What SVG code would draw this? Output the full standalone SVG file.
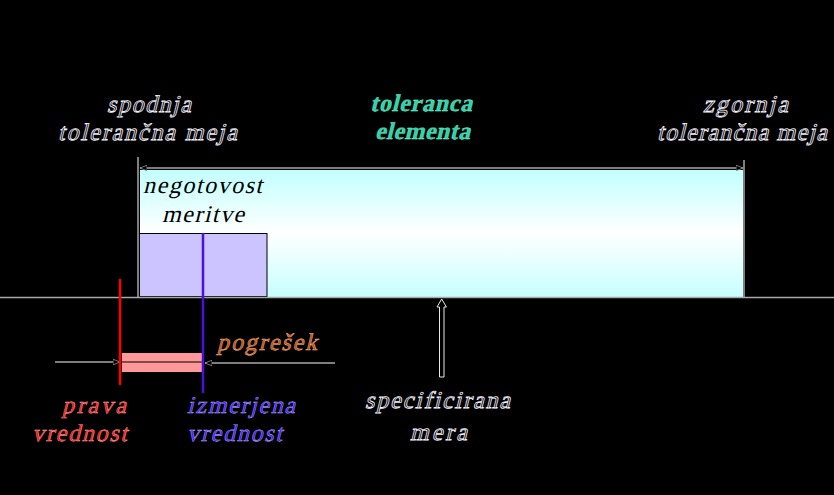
<svg xmlns="http://www.w3.org/2000/svg" width="834" height="495" viewBox="0 0 834 495">
<defs>
<style>
text{font-family:"Liberation Serif","Times New Roman",serif;font-style:normal;font-size:24px;text-anchor:middle}
.outl{fill:#0a0a0a;stroke:#f4f2ff;stroke-width:0.8}
.teal{fill:#2ed3a8;font-weight:bold;stroke:#8fffe0;stroke-width:0.3}
.err{fill:#b4501c;stroke:#f4b080;stroke-width:0.5}
.red{fill:#ff1a1a;stroke:#ffb0b0;stroke-width:0.4}
.blue{fill:#4020ff;stroke:#c0b8ff;stroke-width:0.4}
.dark{fill:#000}
.gl{stroke:#a8a8a8;stroke-width:1.5;fill:none}
</style>
<linearGradient id="cy" x1="0" y1="0" x2="0" y2="1">
<stop offset="0" stop-color="#c2ffff"/>
<stop offset="0.5" stop-color="#ffffff"/>
<stop offset="1" stop-color="#c6ffff"/>
</linearGradient>
<marker id="ah" viewBox="0 0 10 10" refX="10" refY="5" markerWidth="7" markerHeight="7" orient="auto-start-reverse" markerUnits="userSpaceOnUse">
<path d="M0,1 L10,5 L0,9 Z" fill="#000" stroke="#a8a8a8" stroke-width="1"/>
</marker>
</defs>
<rect width="834" height="495" fill="#000"/>

<g id="tolerance-band">
<rect x="140" y="170" width="603" height="127" fill="url(#cy)"/>
</g>

<g id="uncertainty-box">
<rect x="139.5" y="233.5" width="127.5" height="63" fill="#ccc4ff" stroke="#000" stroke-width="1"/>
<text class="dark" transform="translate(202.5,193) skewX(-14)" textLength="119" lengthAdjust="spacing">negotovost</text>
<text class="dark" transform="translate(203,222) skewX(-14)" textLength="82" lengthAdjust="spacing">meritve</text>
</g>

<g id="connectors">
<line class="gl" x1="0" y1="297.5" x2="834" y2="297.5"/>
<line class="gl" x1="138" y1="157" x2="138" y2="297"/>
<line class="gl" x1="744" y1="160" x2="744" y2="297"/>
<line class="gl" x1="140" y1="168" x2="743" y2="168" marker-start="url(#ah)" marker-end="url(#ah)"/>
<line class="gl" x1="55" y1="362" x2="120" y2="362" marker-end="url(#ah)"/>
<line class="gl" x1="335" y1="363" x2="205" y2="363" marker-end="url(#ah)"/>
<path d="M439.5,377 L439.5,307 L437,307 L441.7,299 L446.4,307 L444,307 L444,377 Z" fill="#000" stroke="#e8e8e8" stroke-width="1"/>
</g>

<g id="error-bar">
<rect x="122" y="353" width="81" height="19" fill="#ff9898"/>
<line x1="122" y1="362" x2="203" y2="362" stroke="#000" stroke-width="1.2"/>
</g>

<g id="true-value">
<line x1="120" y1="279" x2="120" y2="385" stroke="#ff0000" stroke-width="2.5"/>
<text class="red" transform="translate(94,413) skewX(-14)" textLength="64" lengthAdjust="spacing">prava</text>
<text class="red" transform="translate(79.5,441) skewX(-14)" textLength="95" lengthAdjust="spacing">vrednost</text>
</g>

<g id="measured-value">
<line x1="203" y1="233" x2="203" y2="393" stroke="#4a10e0" stroke-width="2.5"/>
<text class="blue" transform="translate(241,413) skewX(-14)" textLength="108" lengthAdjust="spacing">izmerjena</text>
<text class="blue" transform="translate(234.5,441) skewX(-14)" textLength="95" lengthAdjust="spacing">vrednost</text>
</g>

<g id="error-label">
<text class="err" transform="translate(267,350) skewX(-14)" textLength="100" lengthAdjust="spacing">pogrešek</text>
</g>

<g id="lower-limit">
<text class="outl" transform="translate(149,112) skewX(-14)" textLength="84" lengthAdjust="spacing">spodnja</text>
<text class="outl" transform="translate(147.5,140) skewX(-14)" textLength="179" lengthAdjust="spacing">tolerančna meja</text>
</g>

<g id="tolerance-label">
<text class="teal" transform="translate(421,111) skewX(-14)" textLength="102" lengthAdjust="spacing">toleranca</text>
<text class="teal" transform="translate(422.5,139) skewX(-14)" textLength="95" lengthAdjust="spacing">elementa</text>
</g>

<g id="upper-limit">
<text class="outl" transform="translate(745.5,112) skewX(-14)" textLength="85" lengthAdjust="spacing">zgornja</text>
<text class="outl" transform="translate(742,140) skewX(-14)" textLength="170" lengthAdjust="spacing">tolerančna meja</text>
</g>

<g id="specified-size">
<text class="outl" transform="translate(437.5,408) skewX(-14)" textLength="145" lengthAdjust="spacing">specificirana</text>
<text class="outl" transform="translate(438.5,440) skewX(-14)" textLength="57" lengthAdjust="spacing">mera</text>
</g>
</svg>
